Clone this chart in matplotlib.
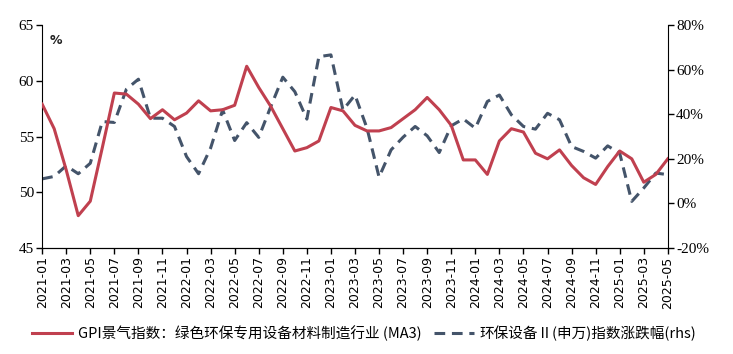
import numpy as np
import matplotlib
matplotlib.use('Agg')
import matplotlib.pyplot as plt
from matplotlib.ticker import FuncFormatter

plt.rcParams['axes.unicode_minus'] = False

# ── Data ──
months = [f'{y}-{m:02d}' for y in range(2021, 2026) for m in range(1, 13)][:53]

gpi = [57.9, 55.7, 52.0, 47.9, 49.2, 54.0, 58.9, 58.8, 57.9, 56.6,
       57.4, 56.5, 57.1, 58.2, 57.3, 57.4, 57.8, 61.3, 59.4, 57.7,
       55.7, 53.7, 54.0, 54.6, 57.6, 57.3, 56.0, 55.5, 55.5, 55.8,
       56.6, 57.4, 58.5, 57.4, 56.0, 52.9, 52.9, 51.6, 54.6, 55.7,
       55.4, 53.5, 53.0, 53.8, 52.4, 51.3, 50.7, 52.3, 53.7, 53.0,
       50.9, 51.6, 53.0]

idx_chg = [11.0, 12.1, 16.9, 13.3, 18.0, 36.7, 36.3, 51.2, 55.7, 38.2,
           38.2, 34.5, 21.0, 13.3, 24.8, 41.9, 28.2, 36.2, 29.6, 43.4,
           56.6, 50.1, 37.8, 65.8, 66.6, 41.9, 48.6, 33.7, 11.8, 24.0,
           29.7, 34.5, 30.3, 22.8, 34.8, 37.9, 33.7, 45.7, 48.6, 39.7,
           34.5, 33.3, 40.4, 37.5, 25.5, 23.3, 20.3, 25.8, 22.5, 0.9,
           6.9, 13.6, 12.9]

label_gpi = 'GPI景气指数：绿色环保专用设备材料制造行业 (MA3)'
label_idx = '环保设备Ⅱ(申万)指数涨跌幅(rhs)'

RED = '#C0404F'
NAVY = '#44546A'

x = np.arange(len(months))

fig = plt.figure(figsize=(7.33, 3.54), dpi=100)
ax = fig.add_axes([0.0575, 0.2994, 0.8536, 0.6300])
ax2 = ax.twinx()

l1, = ax.plot(x, gpi, color=RED, linewidth=2.2, label=label_gpi, zorder=3)
l2, = ax2.plot(x, idx_chg, color=NAVY, linewidth=2.2, dashes=(3.5, 2.2),
               label=label_idx)
ax.set_zorder(ax2.get_zorder() + 1)
ax.patch.set_visible(False)

ax.set_xlim(0, len(months) - 1)
ax.set_ylim(45, 65)
ax.set_yticks([45, 50, 55, 60, 65])
ax2.set_ylim(-20, 80)
ax2.set_yticks([-20, 0, 20, 40, 60, 80])
ax2.yaxis.set_major_formatter(FuncFormatter(lambda v, p: f'{v:.0f}%'))

ax.set_xticks(x[::2])
ax.set_xticklabels(months[::2], rotation=90, fontsize=9,
                   family='DejaVu Sans')

for a in (ax, ax2):
    a.spines['top'].set_visible(False)
    a.tick_params(direction='out', length=4, width=1, pad=2)
ax2.spines['left'].set_visible(False)
ax.spines['right'].set_visible(False)
for lab in ax.get_yticklabels() + ax2.get_yticklabels():
    lab.set_family('Liberation Serif')
    lab.set_fontsize(11)

ax.text(0.012, 0.96, '%', transform=ax.transAxes, fontsize=9,
        ha='left', va='top', color='#222222', fontweight='bold')

fig.legend([l1, l2], [label_gpi, label_idx], loc='center',
           bbox_to_anchor=(0.497, 0.058), ncol=2, frameon=False,
           handlelength=2.7, columnspacing=0.9, handletextpad=0.4,
           prop={'family': ['Noto Sans CJK SC', 'DejaVu Sans'], 'size': 10.5})

fig.savefig('out.png', dpi=100)
